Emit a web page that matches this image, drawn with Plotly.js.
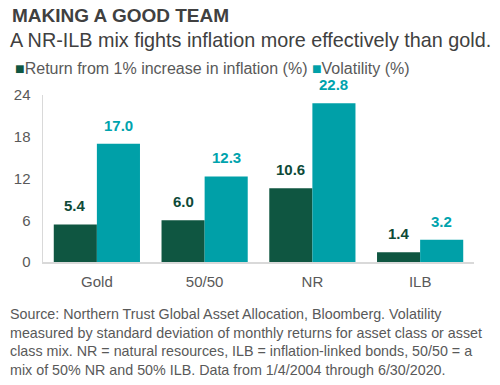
<!DOCTYPE html>
<html>
<head>
<meta charset="utf-8">
<script src="https://cdn.plot.ly/plotly-3.0.1.min.js"></script>
<style>html,body{margin:0;padding:0;background:#fff;}#chart{width:500px;height:385px;}</style>
</head>
<body>
<div id="chart"></div>
<script>
const categories = ["Gold", "50/50", "NR", "ILB"];
const returnValues = [5.4, 6.0, 10.6, 1.4];
const volatilityValues = [17.0, 12.3, 22.8, 3.2];
const seriesNames = ["Return from 1% increase in inflation (%)", "Volatility (%)"];
const yTicks = [0, 6, 12, 18, 24];
const titleText = "MAKING A GOOD TEAM";
const subtitleText = "A NR-ILB mix fights inflation more effectively than gold.";
const footnoteLines = [
  "Source: Northern Trust Global Asset Allocation, Bloomberg. Volatility",
  "measured by standard deviation of monthly returns for asset class or asset",
  "class mix. NR = natural resources, ILB = inflation-linked bonds, 50/50 = a",
  "mix of 50% NR and 50% ILB. Data from 1/4/2004 through 6/30/2020."
];

const darkColor = "#0f5641";
const tealColor = "#00a0a8";
const FONT = "Liberation Sans, Arial, sans-serif";

const traces = [
  {type: "bar", x: categories, y: returnValues, name: seriesNames[0], marker: {color: darkColor}, hoverinfo: "none"},
  {type: "bar", x: categories, y: volatilityValues, name: seriesNames[1], marker: {color: tealColor}, hoverinfo: "none"}
];

function paperX(px){ return (px - 43) / 431; }
function paperY(py){ return (262 - py) / 167; }
const annotations = [];
annotations.push({xref:"paper", yref:"paper", x: paperX(10), y: paperY(15), xanchor:"left", yanchor:"middle", showarrow:false,
  text:"<b>"+titleText+"</b>", font:{family:FONT, size:19, color:"#404040"}});
annotations.push({xref:"paper", yref:"paper", x: paperX(8), y: paperY(40), xanchor:"left", yanchor:"middle", showarrow:false,
  text:subtitleText, font:{family:FONT, size:19.8, color:"#404040"}});
annotations.push({xref:"paper", yref:"paper", x: paperX(13), y: paperY(68), xanchor:"left", yanchor:"middle", showarrow:false,
  text:'<span style="color:'+darkColor+'">■</span>'+seriesNames[0]+' <span style="color:'+tealColor+'">■</span>'+seriesNames[1],
  font:{family:FONT, size:16, color:"#595959"}});
footnoteLines.forEach((ln, i) => {
  annotations.push({xref:"paper", yref:"paper", x: paperX(8), y: paperY(314 + i*18.7), xanchor:"left", yanchor:"middle", showarrow:false,
    text: ln, font:{family:FONT, size:14.3, color:"#595959"}});
});
categories.forEach((c, i) => {
  annotations.push({x: c, y: returnValues[i], xref:"x", yref:"y", xshift:-21.5, yshift:8, yanchor:"bottom", showarrow:false,
    text:"<b>"+returnValues[i].toFixed(1)+"</b>", font:{family:FONT, size:15, color:"#0e4a38"}});
  annotations.push({x: c, y: volatilityValues[i], xref:"x", yref:"y", xshift:21.5, yshift:8, yanchor:"bottom", showarrow:false,
    text:"<b>"+volatilityValues[i].toFixed(1)+"</b>", font:{family:FONT, size:15, color:"#00a3ad"}});
});

const layout = {
  width: 500, height: 385,
  margin: {l: 43, r: 26, t: 95, b: 123, pad: 0},
  paper_bgcolor: "#fff", plot_bgcolor: "#fff",
  showlegend: false,
  barmode: "group", bargap: 0.2, bargroupgap: 0,
  font: {family: FONT, color: "#595959"},
  xaxis: {showgrid:false, zeroline:false, showline:true, linecolor:"#d9d9d9", linewidth:1.5,
    ticks:"outside", ticklen:5, tickcolor:"rgba(0,0,0,0)", tickfont:{family:FONT, size:15, color:"#595959"}, fixedrange:true},
  yaxis: {range:[0,24], tickvals:yTicks, ticktext:yTicks.map(String), showgrid:false, zeroline:false, showline:true,
    linecolor:"#d9d9d9", linewidth:1.5, ticks:"outside", ticklen:8, tickcolor:"rgba(0,0,0,0)",
    tickfont:{family:FONT, size:15, color:"#595959"}, fixedrange:true},
  annotations: annotations
};

Plotly.newPlot("chart", traces, layout, {displayModeBar:false, staticPlot:true});
</script>
</body>
</html>
